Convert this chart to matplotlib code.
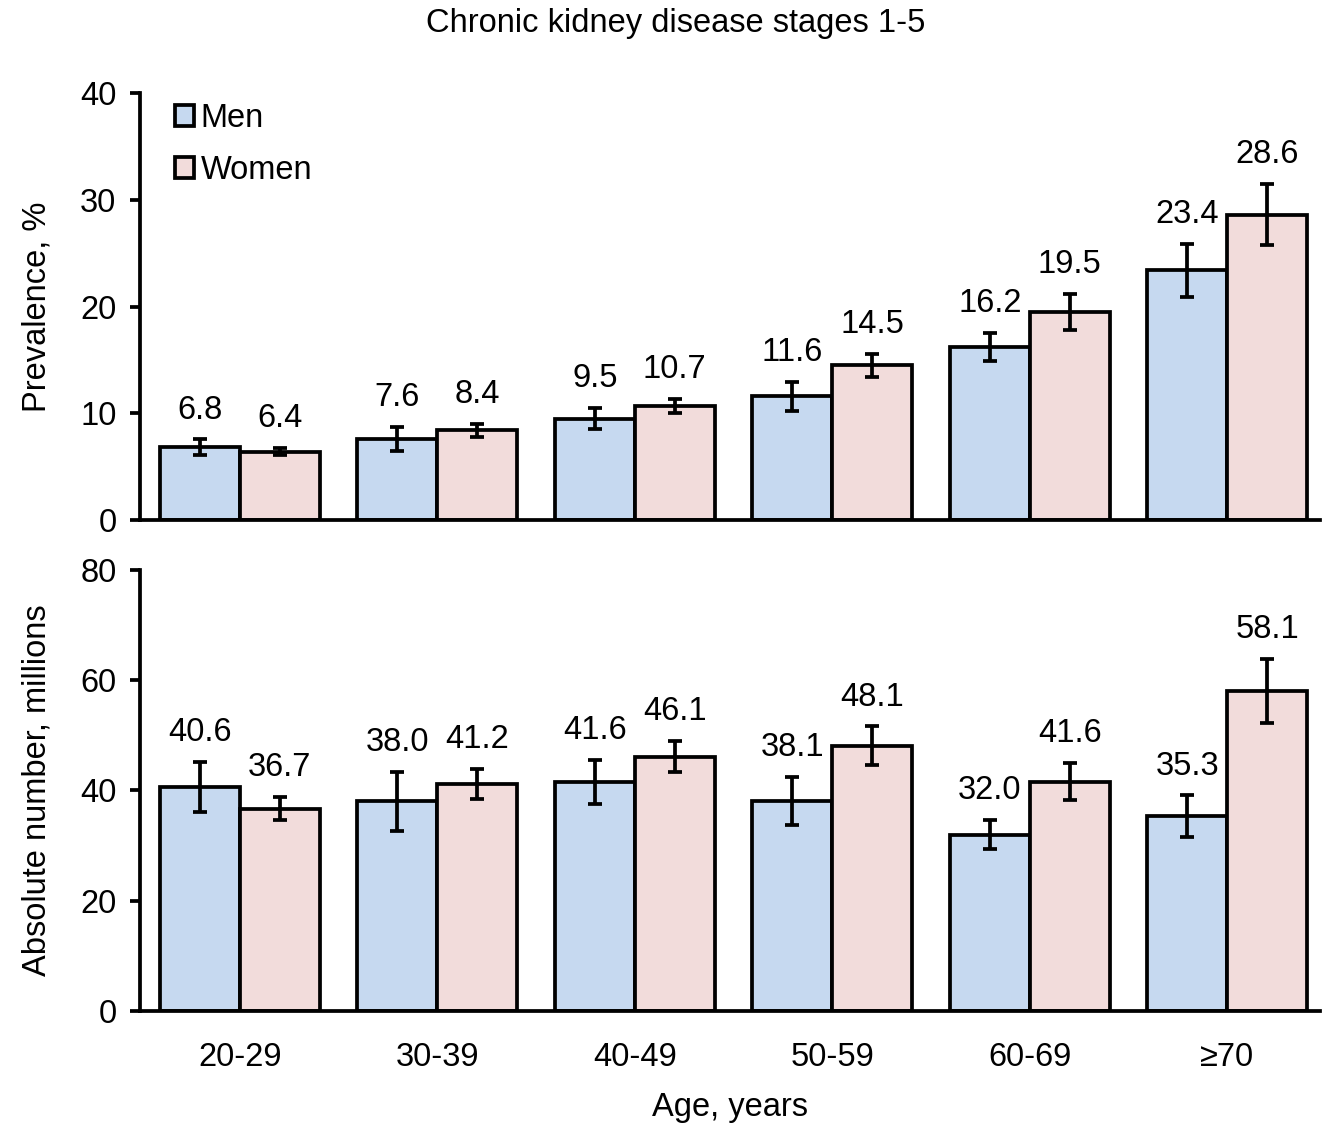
import matplotlib
matplotlib.use("Agg")
import matplotlib.pyplot as plt
import numpy as np

plt.rcParams['font.family'] = ['Liberation Sans', 'DejaVu Sans']

age_groups = ["20-29", "30-39", "40-49", "50-59", "60-69", "\u226570"]

prev_men = [6.8, 7.6, 9.5, 11.6, 16.2, 23.4]
prev_women = [6.4, 8.4, 10.7, 14.5, 19.5, 28.6]
prev_men_err = [0.75, 1.1, 1.0, 1.35, 1.3, 2.5]
prev_women_err = [0.35, 0.6, 0.65, 1.1, 1.7, 2.85]

num_men = [40.6, 38.0, 41.6, 38.1, 32.0, 35.3]
num_women = [36.7, 41.2, 46.1, 48.1, 41.6, 58.1]
num_men_err = [4.5, 5.4, 4.0, 4.4, 2.6, 3.8]
num_women_err = [2.1, 2.7, 2.8, 3.5, 3.4, 5.8]

men_color = "#C6D9F0"
women_color = "#F2DCDB"
fs = 23.5
lw = 2.7

fig = plt.figure(figsize=(13.32, 11.31), dpi=100)
ax1 = fig.add_axes([0.1051, 0.5402, 0.886, 0.3775])
ax2 = fig.add_axes([0.1051, 0.1061, 0.886, 0.39])

x = np.arange(len(age_groups))
w = 0.405


def draw_panel(ax, men, women, men_err, women_err, ymax, step, ylabel):
    for vals, errs, color, shift, lab in [(men, men_err, men_color, -w / 2, "Men"),
                                         (women, women_err, women_color, w / 2, "Women")]:
        ax.bar(x + shift, vals, w, color=color, edgecolor="black", linewidth=lw, label=lab, zorder=2)
        ax.errorbar(x + shift, vals, yerr=errs, fmt="none", ecolor="black",
                    elinewidth=lw, capsize=5, capthick=lw, zorder=3)
        for xi, v, e in zip(x + shift, vals, errs):
            ax.annotate(f"{v:.1f}", (xi, v + e), xytext=(0, 10), textcoords="offset points",
                        ha="center", va="bottom", fontsize=fs)
    ax.set_xlim(-0.505, 5.47)
    ax.set_ylim(0, ymax)
    ax.set_yticks(np.arange(0, ymax + 1, step))
    ax.tick_params(axis="y", labelsize=fs, width=lw, length=7, pad=10)
    ax.tick_params(axis="x", length=0, labelsize=fs, pad=22)
    ax.spines["top"].set_visible(False)
    ax.spines["right"].set_visible(False)
    ax.spines["left"].set_linewidth(lw)
    ax.spines["bottom"].set_linewidth(lw)
    ax.spines["left"].set_zorder(4)
    ax.spines["bottom"].set_zorder(4)
    ax.set_ylabel(ylabel, fontsize=fs, labelpad=20)
    ax.set_xticks(x)


draw_panel(ax1, prev_men, prev_women, prev_men_err, prev_women_err, 40, 10, "Prevalence, %")
ax1.set_xticklabels([])
leg = ax1.legend(loc="upper left", frameon=False, fontsize=fs, handlelength=0.6, handleheight=0.6,
                 handletextpad=0.2, labelspacing=0.65, borderaxespad=0.3, bbox_to_anchor=(0.01, 1.03))

draw_panel(ax2, num_men, num_women, num_men_err, num_women_err, 80, 20, "Absolute number, millions")
ax2.set_xticklabels(age_groups)
ax2.set_xlabel("Age, years", fontsize=fs, labelpad=14)

fig.text(0.507, 0.979, "Chronic kidney disease stages 1-5", ha="center", va="center", fontsize=fs)

fig.savefig("out.png", dpi=100)
